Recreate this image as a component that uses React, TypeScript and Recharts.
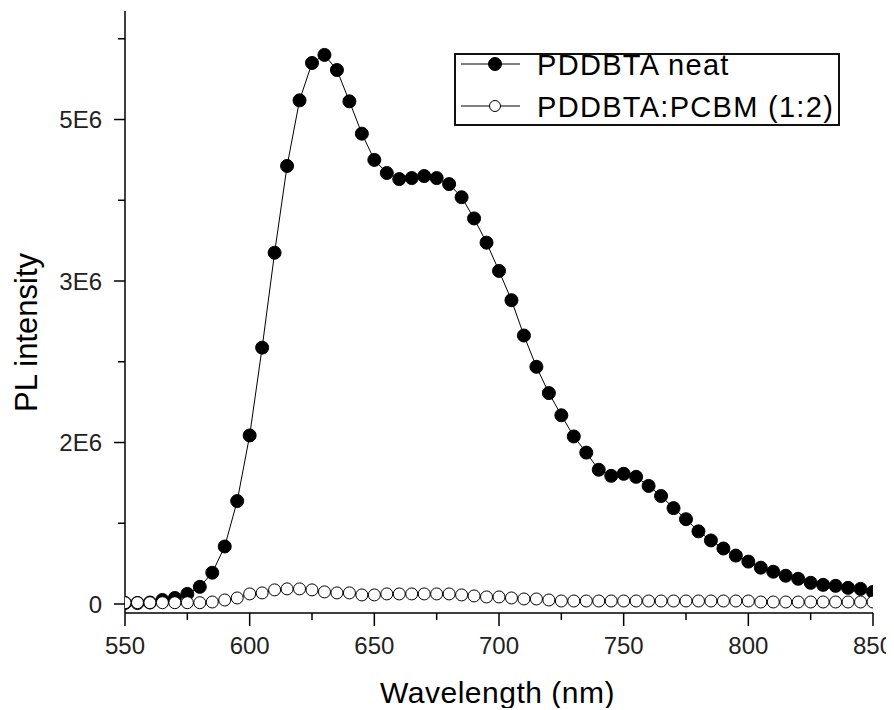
import { LineChart, Line, XAxis, YAxis, Legend, Label } from "recharts";

const wavelength = [
  550, 555, 560, 565, 570, 575, 580, 585, 590, 595, 600, 605, 610, 615, 620,
  625, 630, 635, 640, 645, 650, 655, 660, 665, 670, 675, 680, 685, 690, 695,
  700, 705, 710, 715, 720, 725, 730, 735, 740, 745, 750, 755, 760, 765, 770,
  775, 780, 785, 790, 795, 800, 805, 810, 815, 820, 825, 830, 835, 840, 845,
  850,
];

// PDDBTA neat
const neat = [
  10000, 10000, 15000, 40000, 60000, 100000, 170000, 310000, 570000, 1020000,
  1670000, 2540000, 3480000, 4340000, 4990000, 5360000, 5440000, 5290000,
  4980000, 4660000, 4400000, 4270000, 4210000, 4220000, 4240000, 4220000,
  4160000, 4030000, 3820000, 3580000, 3300000, 3010000, 2660000, 2350000,
  2090000, 1870000, 1660000, 1500000, 1330000, 1270000, 1290000, 1260000,
  1170000, 1070000, 950000, 840000, 720000, 630000, 550000, 480000, 420000,
  360000, 320000, 280000, 250000, 210000, 190000, 180000, 160000, 150000,
  120000,
];

// PDDBTA:PCBM (1:2)
const blend = [
  13000, 13000, 13000, 13000, 13000, 13000, 13000, 20000, 40000, 60000,
  100000, 110000, 140000, 150000, 150000, 140000, 120000, 110000, 110000,
  90000, 90000, 100000, 100000, 100000, 100000, 100000, 100000, 90000, 80000,
  70000, 70000, 60000, 50000, 50000, 40000, 30000, 30000, 30000, 30000, 30000,
  30000, 30000, 30000, 30000, 30000, 30000, 30000, 30000, 30000, 30000, 30000,
  20000, 20000, 20000, 20000, 20000, 20000, 20000, 20000, 20000, 20000,
];

const xTicks = [550, 575, 600, 625, 650, 675, 700, 725, 750, 775, 800, 825, 850];
const yTicks = [0, 800000, 1600000, 2400000, 3200000, 4000000, 4800000, 5600000];
const yMajor = [0, 1600000, 3200000, 4800000];
const seriesNames = ["PDDBTA neat", "PDDBTA:PCBM (1:2)"];

const data = wavelength.map((w, i) => ({ w, neat: neat[i], blend: blend[i] }));

const FONT = "'Liberation Sans', Arial, sans-serif";

const fmtY = (v: number) => (v === 0 ? "0" : `${Math.round(v / 1e6)}E6`);

function BottomTick({ x, y, payload }: any) {
  const major = payload.value % 50 === 0;
  return (
    <g>
      <line x1={x} y1={y} x2={x} y2={y + (major ? 13 : 7)} stroke="#000" strokeWidth={1.5} />
      {major && (
        <text x={x} y={y + 41} textAnchor="middle" fontSize={24} fontFamily={FONT} fill="#222">
          {payload.value}
        </text>
      )}
    </g>
  );
}

function TopTick({ x, y, payload }: any) {
  const major = payload.value % 50 === 0;
  return <line x1={x} y1={y} x2={x} y2={y + (major ? 12 : 7)} stroke="#000" strokeWidth={1.5} />;
}

function LeftTick({ x, y, payload }: any) {
  const major = yMajor.includes(payload.value);
  return (
    <g>
      <line x1={x - (major ? 11 : 7)} y1={y} x2={x} y2={y} stroke="#000" strokeWidth={1.5} />
      {major && (
        <text x={x - 23} y={y + 8.5} textAnchor="end" fontSize={24} fontFamily={FONT} fill="#222">
          {fmtY(payload.value)}
        </text>
      )}
    </g>
  );
}

function RightTick({ x, y, payload }: any) {
  const major = yMajor.includes(payload.value);
  return <line x1={x - (major ? 11 : 6)} y1={y} x2={x} y2={y} stroke="#000" strokeWidth={1.5} />;
}

function LegendBox() {
  const rows = [
    { name: seriesNames[0], fill: "#000", r: 6.5, y: 11 },
    { name: seriesNames[1], fill: "#fff", r: 5.5, y: 53 },
  ];
  return (
    <svg width={386} height={73} style={{ display: "block", overflow: "visible" }}>
      <rect x={1} y={1} width={384} height={71} fill="#fff" stroke="#111" strokeWidth={2} />
      {rows.map((r) => (
        <g key={r.name}>
          <line x1={7} y1={r.y} x2={66} y2={r.y} stroke="#000" strokeWidth={1} />
          <circle cx={41} cy={r.y} r={r.r} fill={r.fill} stroke="#000" strokeWidth={1} />
          <text x={83} y={r.y + 11} fontSize={29} fontFamily={FONT} letterSpacing={1.3} fill="#000">
            {r.name}
          </text>
        </g>
      ))}
    </svg>
  );
}

export default function App() {
  return (
    <LineChart
      width={886}
      height={700}
      data={data}
      margin={{ top: 3, right: 21, left: 0, bottom: 0 }}
    >
      <XAxis
        dataKey="w"
        type="number"
        domain={[550, 850]}
        ticks={xTicks}
        interval={0}
        allowDataOverflow
        height={95}
        tickSize={0}
        tickMargin={0}
        tick={<BottomTick />}
        tickLine={false}
        axisLine={{ stroke: "#000", strokeWidth: 1.5 }}
      >
        <Label
          content={() => (
            <text x={489.5} y={695} textAnchor="middle" fontSize={30} fontFamily={FONT} letterSpacing={0.5} fill="#000">
              Wavelength (nm)
            </text>
          )}
        />
      </XAxis>
      <XAxis
        xAxisId="top"
        orientation="top"
        dataKey="w"
        type="number"
        domain={[550, 850]}
        ticks={xTicks}
        interval={0}
        allowDataOverflow
        height={0}
        tickSize={0}
        tickMargin={0}
        tick={<TopTick />}
        tickLine={false}
        axisLine={{ stroke: "#000", strokeWidth: 1.5 }}
      />
      <YAxis
        type="number"
        domain={[-89000, 5875000]}
        ticks={yTicks}
        interval={0}
        allowDataOverflow
        width={117}
        tickSize={0}
        tickMargin={0}
        tick={<LeftTick />}
        tickLine={false}
        axisLine={{ stroke: "#000", strokeWidth: 1.5 }}
      >
        <Label
          content={() => (
            <text
              x={29}
              y={324.5}
              transform="rotate(-90 29 324.5)"
              textAnchor="middle"
              fontSize={31}
              fontFamily={FONT}
              fill="#000"
            >
              PL intensity
            </text>
          )}
        />
      </YAxis>
      <YAxis
        yAxisId="right"
        orientation="right"
        type="number"
        domain={[-89000, 5875000]}
        ticks={yTicks}
        interval={0}
        allowDataOverflow
        width={0}
        tickSize={0}
        tickMargin={0}
        tick={<RightTick />}
        tickLine={false}
        axisLine={{ stroke: "#000", strokeWidth: 1.5 }}
      />
      <Legend
        layout="vertical"
        align="center"
        verticalAlign="middle"
        content={() => <LegendBox />}
        wrapperStyle={{ left: 446, top: 45, width: 386, height: 73 }}
      />
      <Line
        dataKey="neat"
        name={seriesNames[0]}
        type="linear"
        stroke="#000"
        strokeWidth={1}
        dot={{ r: 6.5, fill: "#000", stroke: "#000", strokeWidth: 1 }}
        isAnimationActive={false}
      />
      <Line
        dataKey="blend"
        name={seriesNames[1]}
        type="linear"
        stroke="#000"
        strokeWidth={1}
        dot={{ r: 6, fill: "#fff", stroke: "#000", strokeWidth: 1 }}
        isAnimationActive={false}
      />
    </LineChart>
  );
}
